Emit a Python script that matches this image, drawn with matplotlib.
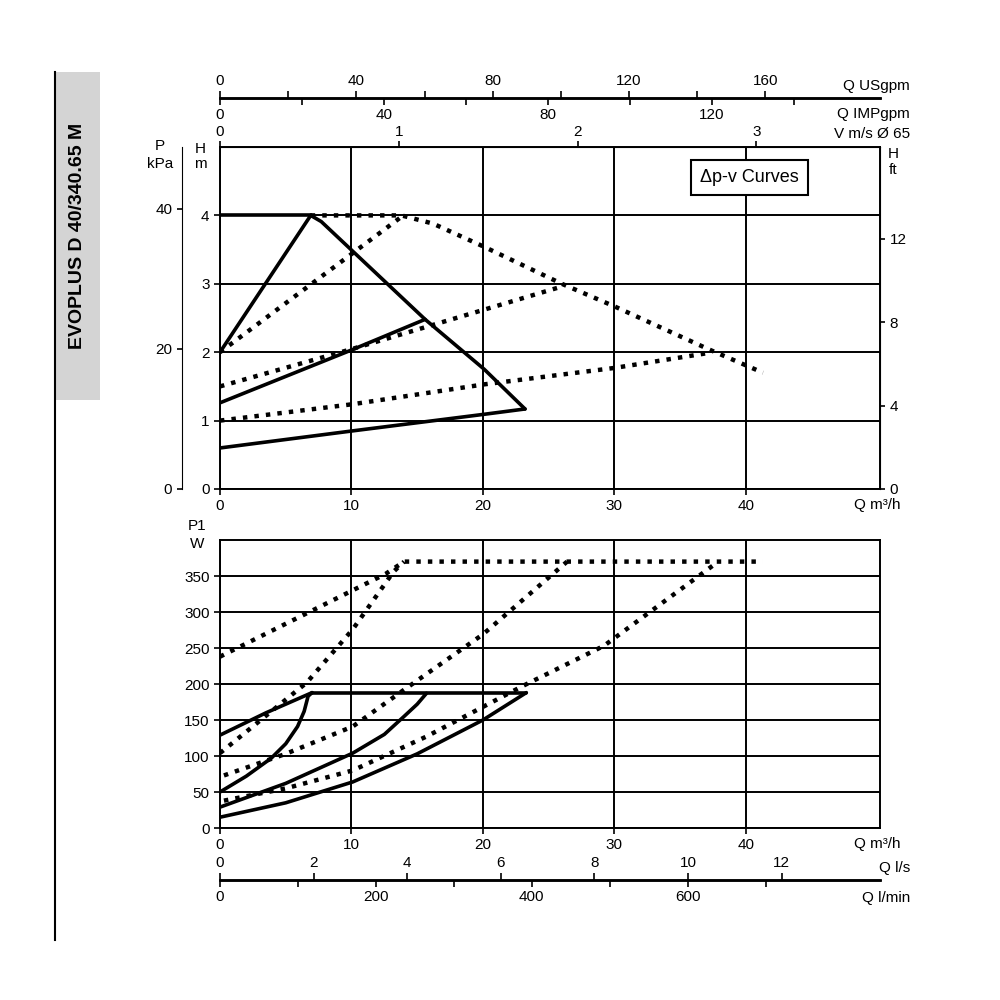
import matplotlib
matplotlib.use("Agg")
import matplotlib.pyplot as plt
import numpy as np

# ---- data: head curves (Q m3/h, H m)
h_top_q = [0, 6.9]; h_top_h = [4, 4]
h_rise1_q = [0, 6.9]; h_rise1_h = [2.0, 4.0]
h_limit_q = [6.9, 7.7, 15.6, 20.1, 23.2]; h_limit_h = [4.0, 3.91, 2.48, 1.75, 1.17]
h_s2_q = [0, 10.1, 15.6]; h_s2_h = [1.26, 2.04, 2.48]
h_s3_q = [0, 10.1, 20.0, 23.2]; h_s3_h = [0.6, 0.85, 1.09, 1.17]
h_d1_q = [6.9, 13.8, 16.2, 20.1, 26.0, 30.0, 37.2, 41.3]; h_d1_h = [4.0, 4.0, 3.88, 3.54, 3.0, 2.67, 2.04, 1.70]
h_d2_q = [0, 13.8]; h_d2_h = [2.0, 3.98]
h_d3_q = [0, 10.1, 26.0]; h_d3_h = [1.5, 2.05, 2.96]
h_d4_q = [0, 10.1, 20.1, 30.0, 37.2]; h_d4_h = [1.0, 1.24, 1.53, 1.77, 1.99]

# ---- data: power curves (Q m3/h, P1 W)
p_flat_q = [7.0, 23.3]; p_flat_w = [188, 188]
p_s1_q = [0, 3.5, 7.0]; p_s1_w = [129, 160, 188]
p_s2_q = [0, 2.0, 3.9, 5.0, 5.9, 6.4, 6.7, 7.0]; p_s2_w = [50, 72, 97, 117, 141, 162, 183, 188]
p_s3_q = [0, 5.0, 10.1, 12.5, 14.0, 15.0, 15.7]; p_s3_w = [29, 62, 104, 130, 155, 172, 187]
p_s4_q = [0, 5.0, 10.1, 15.0, 20.0, 23.3]; p_s4_w = [15, 35, 64, 103, 150, 188]
p_d1_q = [0, 12.6, 14.0, 41.3]; p_d1_w = [238, 353, 370, 370]
p_d2_q = [0, 6.6, 10.1, 13.2, 14.0]; p_d2_w = [104, 202, 276, 356, 370]
p_d3_q = [0.3, 5.0, 10.1, 14.0, 20.0, 26.4]; p_d3_w = [73, 103, 141, 192, 269, 370]
p_d4_q = [0.3, 5.0, 10.1, 15.7, 23.0, 29.2, 37.9]; p_d4_w = [38, 55, 80, 127, 197, 253, 370]

# axis tick data
q_ticks = [0, 10, 20, 30, 40]
h_ticks = [0, 1, 2, 3, 4]
kpa_ticks = [0, 20, 40]
ft_ticks = [0, 4, 8, 12]
w_ticks = [0, 50, 100, 150, 200, 250, 300, 350]
usgpm_ticks = [0, 20, 40, 60, 80, 100, 120, 140, 160]
usgpm_labels = [0, 40, 80, 120, 160]
imp_ticks = [0, 20, 40, 60, 80, 100, 120, 140]
imp_labels = [0, 40, 80, 120]
v_ticks = [0, 1, 2, 3]
ls_ticks = [0, 2, 4, 6, 8, 10, 12]
lmin_ticks = [0, 100, 200, 300, 400, 500, 600, 700]
lmin_labels = [0, 200, 400, 600]

# conversion factors (m3/h per unit, as drawn)
F_USGPM = 0.2593
F_IMP = 0.3118
F_V = 13.6
F_LS = 3.56
F_LMIN = 0.0593

plt.rcParams['font.family'] = ['Liberation Sans', 'DejaVu Sans']
fig = plt.figure(figsize=(10, 10), dpi=100)

solid = dict(color='black', lw=2.6, solid_capstyle='round', solid_joinstyle='round')
dot = dict(color='black', lw=3.2, linestyle=(0, (1, 1.6)), dash_capstyle='butt')

def style(ax):
    ax.set_xlim(0, 50.2)
    ax.grid(True, color='black', lw=1.4)
    for s in ['left', 'right', 'top', 'bottom']:
        ax.spines[s].set_linewidth(1.4)
    ax.tick_params(labelsize=11, length=4, width=1.2)

def scale_line(y, ticks, factor, labels, top):
    a = fig.add_axes([0.22, y, 0.66, 0.0001])
    a.set_xlim(0, 50.2); a.set_yticks([])
    a.patch.set_visible(False)
    for s in a.spines.values():
        s.set_visible(False)
    a.spines['top' if top else 'bottom'].set_visible(True)
    a.spines['top' if top else 'bottom'].set_linewidth(1.8)
    a.set_xticks([t * factor for t in ticks])
    a.set_xticklabels([str(t) if t in labels else '' for t in ticks], fontsize=11)
    a.tick_params(axis='x', direction='out', length=5, width=1.2, pad=2,
                  top=top, bottom=not top, labeltop=top, labelbottom=not top)
    return a

# upper
ax1 = fig.add_axes([0.22, 0.511, 0.66, 0.342])
style(ax1)
ax1.set_ylim(0, 5.0)
ax1.set_xticks(q_ticks); ax1.set_yticks(h_ticks)
for q, h, st in [(h_top_q, h_top_h, solid), (h_rise1_q, h_rise1_h, solid), (h_limit_q, h_limit_h, solid),
                 (h_s2_q, h_s2_h, solid), (h_s3_q, h_s3_h, solid),
                 (h_d1_q, h_d1_h, dot), (h_d2_q, h_d2_h, dot), (h_d3_q, h_d3_h, dot), (h_d4_q, h_d4_h, dot)]:
    ax1.plot(q, h, **st)
ax1.text(0.96, -0.025, 'Q m³/h', transform=ax1.transAxes, ha='left', va='top', fontsize=11)
ax1.text(40.3, 4.55, 'Δp-v Curves', fontsize=13, ha='center', va='center',
         bbox=dict(boxstyle='square,pad=0.5', fc='white', ec='black', lw=1.5))
axr = ax1.secondary_yaxis('right', functions=(lambda m: m * 3.281, lambda f: f / 3.281))
axr.set_yticks(ft_ticks); axr.tick_params(labelsize=11, width=1.2)
axp = ax1.secondary_yaxis(-0.0576, functions=(lambda m: m * 9.76, lambda p: p / 9.76))
axp.set_yticks(kpa_ticks); axp.tick_params(labelsize=11, width=1.2)
axv = ax1.secondary_xaxis('top', functions=(lambda q: q / F_V, lambda v: v * F_V))
axv.set_xticks(v_ticks); axv.tick_params(labelsize=11, width=1.2, length=4, pad=2)
fig.text(0.91, 0.862, 'V m/s Ø 65', ha='right', fontsize=11)

fig.text(0.16, 0.85, 'P', ha='center', fontsize=11)
fig.text(0.16, 0.832, 'kPa', ha='center', fontsize=11)
fig.text(0.20, 0.847, 'H', ha='center', fontsize=11)
fig.text(0.20, 0.832, 'm', ha='center', fontsize=11)
fig.text(0.893, 0.842, 'H', ha='center', fontsize=11)
fig.text(0.893, 0.826, 'ft', ha='center', fontsize=11)

scale_line(0.902, usgpm_ticks, F_USGPM, usgpm_labels, True)
scale_line(0.902, imp_ticks, F_IMP, imp_labels, False)
fig.text(0.91, 0.91, 'Q USgpm', ha='right', fontsize=11)
fig.text(0.91, 0.882, 'Q IMPgpm', ha='right', fontsize=11)

# lower
ax2 = fig.add_axes([0.22, 0.172, 0.66, 0.288])
style(ax2)
ax2.set_ylim(0, 400)
ax2.set_xticks(q_ticks); ax2.set_yticks(w_ticks)
for q, w, st in [(p_flat_q, p_flat_w, solid), (p_s1_q, p_s1_w, solid), (p_s2_q, p_s2_w, solid),
                 (p_s3_q, p_s3_w, solid), (p_s4_q, p_s4_w, solid),
                 (p_d1_q, p_d1_w, dot), (p_d2_q, p_d2_w, dot), (p_d3_q, p_d3_w, dot), (p_d4_q, p_d4_w, dot)]:
    ax2.plot(q, w, **st)
ax2.text(0.96, -0.03, 'Q m³/h', transform=ax2.transAxes, ha='left', va='top', fontsize=11)
fig.text(0.197, 0.47, 'P1', ha='center', fontsize=11)
fig.text(0.197, 0.452, 'W', ha='center', fontsize=11)

scale_line(0.12, ls_ticks, F_LS, ls_ticks, True)
scale_line(0.12, lmin_ticks, F_LMIN, lmin_labels, False)
fig.text(0.91, 0.128, 'Q l/s', ha='right', fontsize=11)
fig.text(0.91, 0.098, 'Q l/min', ha='right', fontsize=11)

# side title
fig.patches.append(plt.Rectangle((0.055, 0.60), 0.045, 0.328, transform=fig.transFigure, fc='#d4d4d4', ec='none'))
fig.lines.append(plt.Line2D([0.055, 0.055], [0.06, 0.928], transform=fig.transFigure, color='black', lw=1.5))
fig.text(0.078, 0.764, 'EVOPLUS D 40/340.65 M', rotation=90, ha='center', va='center',
         fontsize=14, fontweight='bold')

fig.savefig('out.png', dpi=100, facecolor='white')
